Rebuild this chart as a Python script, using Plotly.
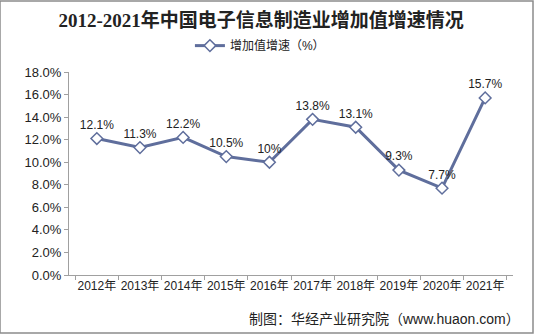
import plotly.graph_objects as go

years = ["2012年", "2013年", "2014年", "2015年", "2016年",
         "2017年", "2018年", "2019年", "2020年", "2021年"]
growth = [12.1, 11.3, 12.2, 10.5, 10.0, 13.8, 13.1, 9.3, 7.7, 15.7]
point_labels = ["12.1%", "11.3%", "12.2%", "10.5%", "10%",
                "13.8%", "13.1%", "9.3%", "7.7%", "15.7%"]
y_ticks = [0, 2, 4, 6, 8, 10, 12, 14, 16, 18]

line_color = "#5F6E9C"
cjk = "Liberation Sans, Noto Sans CJK SC, sans-serif"

fig = go.Figure()
fig.add_trace(go.Scatter(
    x=years, y=growth,
    mode="lines+markers+text",
    name="增加值增速（%）",
    line=dict(color=line_color, width=3),
    marker=dict(symbol="diamond", size=9, color="white",
                line=dict(color=line_color, width=1.5)),
    text=point_labels,
    textposition="top center",
    textfont=dict(family=cjk, size=12, color="#222222"),
    cliponaxis=False,
))

fig.update_layout(
    width=534, height=334,
    margin=dict(l=69, r=21, t=72, b=59),
    paper_bgcolor="white", plot_bgcolor="white",
    title=dict(
        text="<b>2012-2021年中国电子信息制造业增加值增速情况</b>",
        x=0.489, xanchor="center", y=0.94, yanchor="middle",
        font=dict(family="Liberation Serif, Noto Sans CJK SC, serif",
                  size=19, color="#222222"),
    ),
    showlegend=True,
    legend=dict(
        orientation="h", x=0.43, xanchor="center", y=1.13, yanchor="middle",
        font=dict(family=cjk, size=12, color="#222222"),
        bgcolor="rgba(0,0,0,0)",
    ),
    xaxis=dict(
        type="category",
        showline=True, linecolor="#A0A0A0", linewidth=1,
        ticks="outside", tickson="boundaries", ticklen=4, tickcolor="#A0A0A0",
        showgrid=False, zeroline=False, tickangle=0,
        tickfont=dict(family=cjk, size=12, color="#222222"),
    ),
    yaxis=dict(
        range=[0, 18], tickvals=y_ticks,
        ticktext=[f"{v:.1f}%" for v in y_ticks],
        showline=True, linecolor="#A0A0A0", linewidth=1,
        ticks="outside", ticklen=4, tickcolor="#A0A0A0",
        showgrid=False, zeroline=False,
        tickfont=dict(family=cjk, size=13, color="#222222"),
    ),
)

# outer frame
fig.add_shape(type="rect", xref="paper", yref="paper",
              x0=-69 / 444, x1=1 + 20 / 444, y0=-58 / 203, y1=1 + 71 / 203,
              line=dict(color="#8C8C8C", width=1.5), fillcolor="rgba(0,0,0,0)")

fig.add_annotation(
    text="制图：华经产业研究院（www.huaon.com）",
    xref="paper", yref="paper", x=1.02, y=-0.215,
    xanchor="right", yanchor="middle", showarrow=False,
    font=dict(family=cjk, size=14, color="#222222"),
)

fig.write_html("out.html")
